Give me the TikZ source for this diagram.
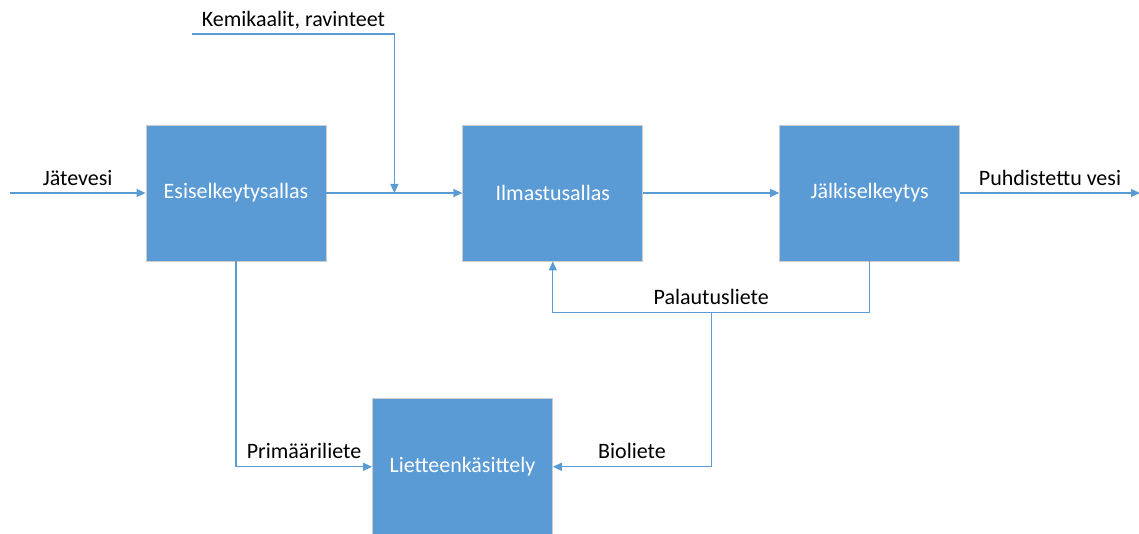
\documentclass[tikz,border=0pt]{standalone}
\usepackage{fontspec}
\setmainfont{Carlito}
\usetikzlibrary{arrows.meta,positioning}
\definecolor{boxblue}{HTML}{5B9BD5}

\begin{document}
\begin{tikzpicture}[x=1pt,y=1pt,>={Triangle[length=9pt,width=8pt]},
                    font=\fontsize{22}{26}\selectfont,node distance=136pt,
                    tank/.style={rectangle,fill=boxblue,draw=black!20,line width=0.8pt,
                                 minimum width=180pt,minimum height=136pt,
                                 text=white,inner sep=0pt},
                    flow/.style={->,draw=boxblue,line width=1.2pt},
                    lbl/.style={above=4pt,text depth=0pt}]

  \useasboundingbox (0,0) rectangle (1139,-534);

  \node[tank] (esi)  at (236,-193)                   {Esiselkeytysallas};
  \node[tank] (ilm)  [right=of esi]                  {Ilmastusallas};
  \node[tank] (jalk) [right=of ilm]                  {Jälkiselkeytys};
  \node[tank] (liet) [below=137pt of ilm.south west] {Lietteenkäsittely};

  \coordinate[left=136pt of esi]                 (in);
  \coordinate[right=180pt of jalk]               (out);
  \coordinate[right=68pt of esi]                 (mix);
  \coordinate[above left=159pt and 202pt of mix] (kem);
  \coordinate[below=51pt of jalk.south]          (ret);

  \path (in)   edge[flow] node[lbl] {Jätevesi} (esi)
        (esi)  edge[flow]                      (ilm)
        (ilm)  edge[flow]                      (jalk)
        (jalk) edge[flow] node[lbl] {Puhdistettu vesi} (out);

  \draw[flow] (kem) -| node[lbl,pos=0.25] {Kemikaalit, ravinteet} (mix);
  \draw[flow] (jalk.south) -- (ret)
              -| node[lbl,pos=0.25] (pal) {Palautusliete} (ilm.south);
  \draw[flow] ([yshift=-4pt]pal.south)
              |- node[lbl,pos=0.75] {Bioliete} (liet.east);
  \draw[flow] (esi.south) |- node[lbl,pos=0.75] {Primääriliete} (liet.west);
\end{tikzpicture}
\end{document}
